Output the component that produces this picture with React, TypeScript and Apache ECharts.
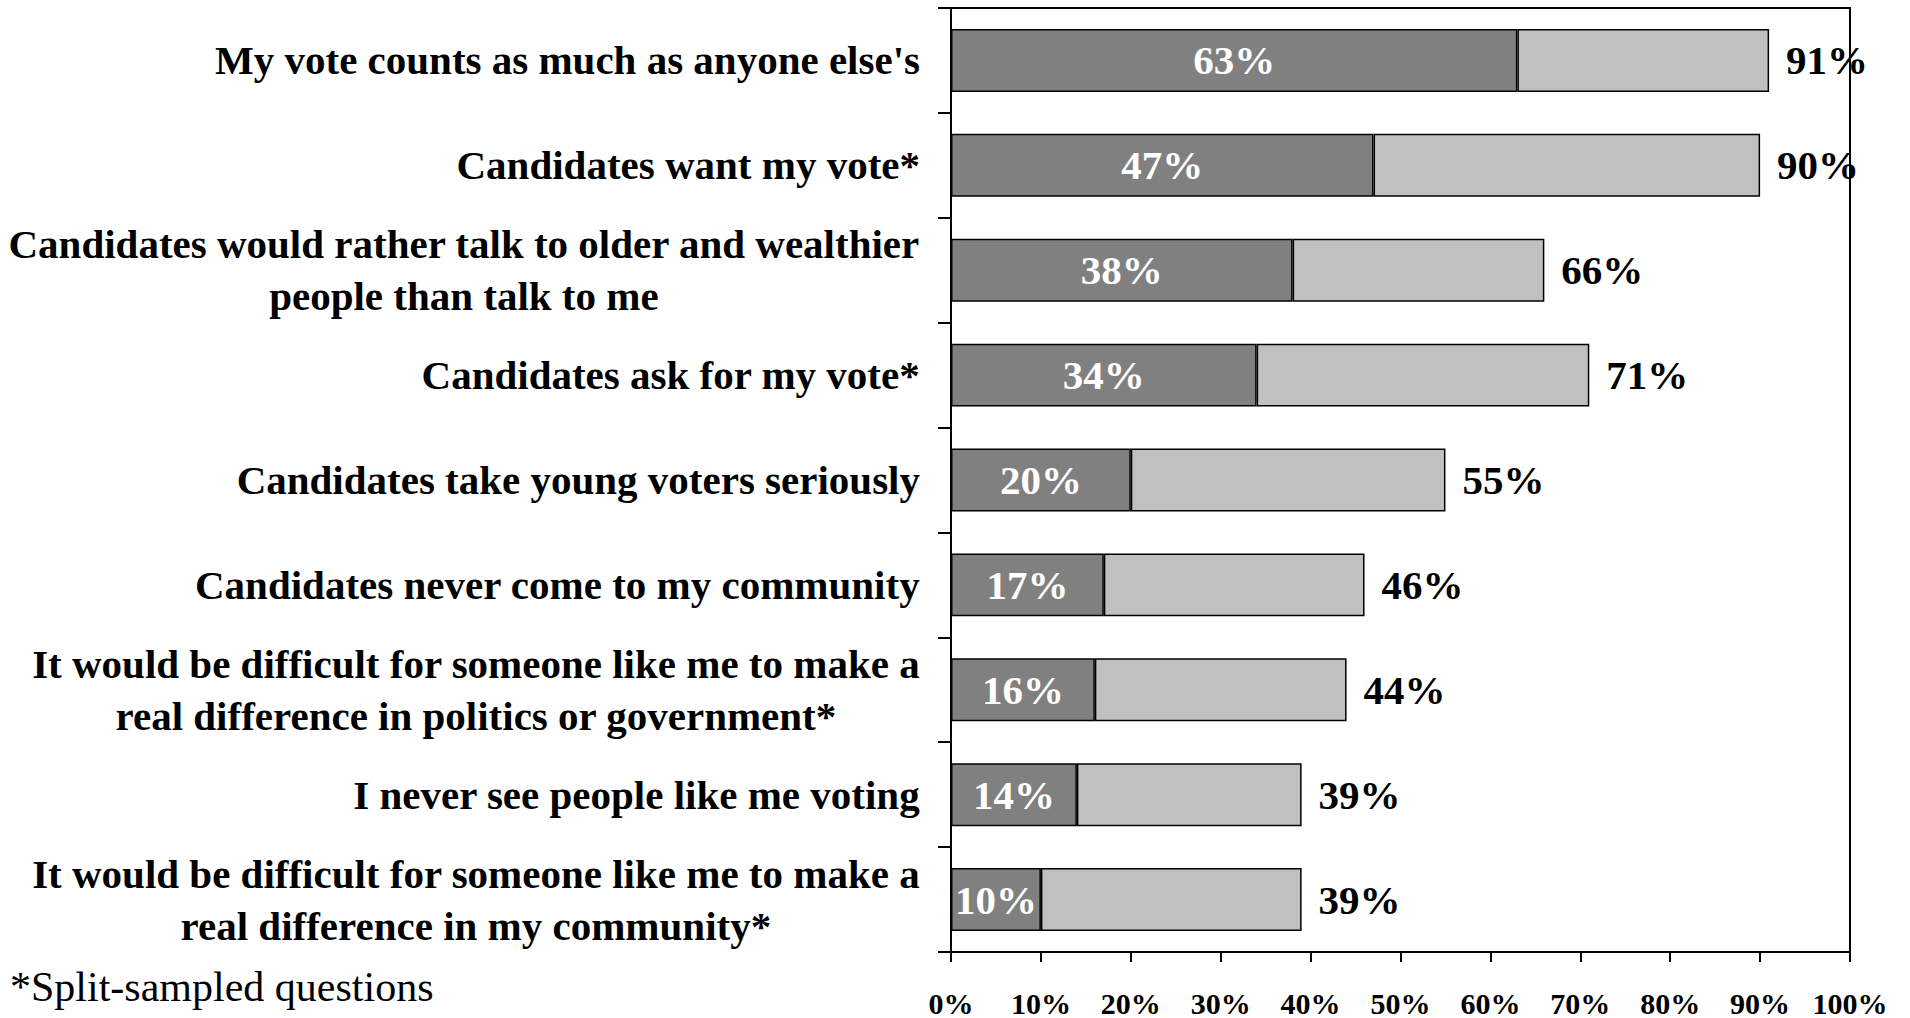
import React, { useEffect, useRef } from "react";
import * as echarts from "echarts";

const categories: string[] = [
  "My vote counts as much as anyone else's",
  "Candidates want my vote*",
  "Candidates would rather talk to older and wealthier\npeople than talk to me",
  "Candidates ask for my vote*",
  "Candidates take young voters seriously",
  "Candidates never come to my community",
  "It would be difficult for someone like me to make a\nreal difference in politics or government*",
  "I never see people like me voting",
  "It would be difficult for someone like me to make a\nreal difference in my community*",
];

const strongValues: number[] = [63, 47, 38, 34, 20, 17, 16, 14, 10];
const totalValues: number[] = [91, 90, 66, 71, 55, 46, 44, 39, 39];
const remainderValues: number[] = totalValues.map((t, i) => t - strongValues[i]);

const xTicks = { min: 0, max: 100, interval: 10 };
const footnote = "*Split-sampled questions";

const SERIF = "'Liberation Serif', 'Times New Roman', serif";

export default function App() {
  const ref = useRef<HTMLDivElement>(null);

  useEffect(() => {
    if (!ref.current) return;
    const chart = echarts.init(ref.current, undefined, { renderer: "svg" });
    chart.setOption({
      animation: false,
      backgroundColor: "#ffffff",
      grid: {
        left: 951,
        right: 60,
        top: 8,
        bottom: 66,
        containLabel: false,
        outerBoundsMode: "none",
        show: true,
        borderColor: "#000",
        borderWidth: 2,
        backgroundColor: "transparent",
      },
      xAxis: {
        type: "value",
        min: xTicks.min,
        max: xTicks.max,
        interval: xTicks.interval,
        axisLine: { show: true, lineStyle: { color: "#000", width: 2 } },
        axisTick: { show: true, length: 10, lineStyle: { color: "#000", width: 2 } },
        splitLine: { show: false },
        axisLabel: {
          formatter: "{value}%",
          fontFamily: SERIF,
          fontWeight: "bold",
          fontSize: 30,
          color: "#000",
          margin: 36,
          hideOverlap: false,
        },
      },
      yAxis: {
        type: "category",
        inverse: true,
        data: categories,
        axisLine: { show: true, lineStyle: { color: "#000", width: 2 } },
        axisTick: { show: true, length: 13, lineStyle: { color: "#000", width: 2 } },
        axisLabel: {
          margin: 31,
          interval: 0,
          formatter: (v: string) =>
            v
              .split("\n")
              .map((l) => `{c|${l}}`)
              .join("\n"),
          rich: {
            c: {
              align: "center",
              fontFamily: SERIF,
              fontWeight: "bold",
              fontSize: 41,
              lineHeight: 52,
              color: "#000",
            },
          },
        },
      },
      series: [
        {
          type: "bar",
          stack: "total",
          data: strongValues,
          barCategoryGap: "40%",
          itemStyle: { color: "#808080", borderColor: "#000", borderWidth: 1.5 },
          label: {
            show: true,
            position: "inside",
            formatter: "{c}%",
            fontFamily: SERIF,
            fontWeight: "bold",
            fontSize: 41,
            color: "#fff",
          },
        },
        {
          type: "bar",
          stack: "total",
          data: remainderValues,
          barCategoryGap: "40%",
          itemStyle: { color: "#C0C0C0", borderColor: "#000", borderWidth: 1.5 },
          label: {
            show: true,
            position: "right",
            distance: 17,
            formatter: (p: any) => `${totalValues[p.dataIndex]}%`,
            fontFamily: SERIF,
            fontWeight: "bold",
            fontSize: 41,
            color: "#000",
          },
        },
      ],
      graphic: [
        {
          type: "text",
          left: 10,
          top: 966,
          style: {
            text: footnote,
            fontFamily: SERIF,
            fontSize: 42,
            fill: "#000",
          },
        },
      ],
    });
    return () => chart.dispose();
  }, []);

  return (
    <div
      ref={ref}
      style={{ position: "absolute", left: 0, top: 0, width: 1910, height: 1018 }}
    />
  );
}
